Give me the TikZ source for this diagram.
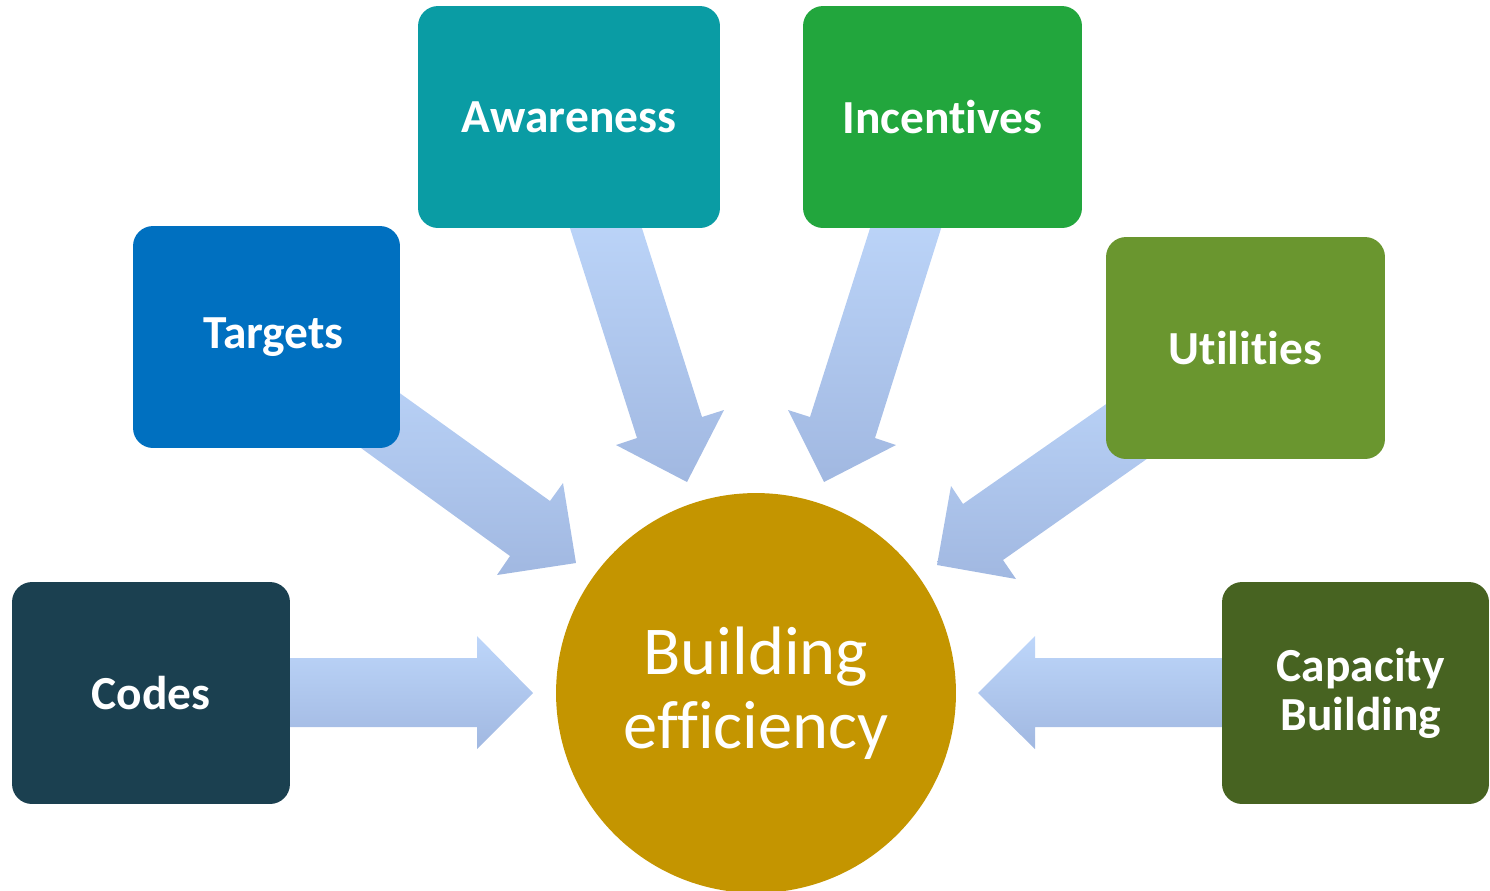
\documentclass[tikz,border=0pt]{standalone}
\usepackage{fontspec}
\setmainfont[Ligatures=NoCommon]{Carlito}
\definecolor{arrowtop}{HTML}{BDD6FA}
\definecolor{arrowbot}{HTML}{A1B8E1}
\definecolor{codesc}{HTML}{1B4050}
\definecolor{targetsc}{HTML}{0070C0}
\definecolor{awarenessc}{HTML}{0A9CA4}
\definecolor{incentivesc}{HTML}{22A63D}
\definecolor{utilitiesc}{HTML}{6A962F}
\definecolor{capacityc}{HTML}{476321}
\definecolor{goldc}{HTML}{C49500}
\begin{document}
\begin{tikzpicture}[x=0.02cm,y=-0.02cm,
  box/.style={rounded corners=0.4cm, minimum height=4.44cm, inner sep=0pt,
    text=white, font=\fontsize{27}{30}\selectfont\bfseries, align=center},
  barrow/.style={top color=arrowtop, bottom color=arrowbot, draw=none}]
\useasboundingbox (0,0) rectangle (1490,890);
% block arrows
\shade[barrow] (285,658) -- (477,658) -- (477,636) -- (533,693) -- (477,749) -- (477,727) -- (285,727) -- cycle;
\shade[barrow] (1230,658) -- (1035,658) -- (1035,636) -- (978,693) -- (1035,749) -- (1035,727) -- (1230,727) -- cycle;
\shade[barrow] (330,343) -- (550,501) -- (563,483) -- (576,563) -- (497,575) -- (510,556) -- (292,398) -- cycle;
\shade[barrow] (1175,356) -- (963,504) -- (951,486) -- (937,565) -- (1016,579) -- (1003,560) -- (1215,411) -- cycle;
\shade[barrow] (561,200) -- (637,438) -- (616,445) -- (687,482) -- (724,410) -- (702,417) -- (633,200) -- cycle;
\shade[barrow] (879,200) -- (810,417) -- (788,410) -- (824,482) -- (896,445) -- (875,438) -- (950,200) -- cycle;
% boxes
\node[box, fill=codesc, minimum width=5.56cm] (codes) at (151,693) {Codes};
\node[box, fill=targetsc, minimum width=5.34cm] (targets) at (266.5,337) {\hspace*{8pt}Targets};
\node[box, fill=awarenessc, minimum width=6.04cm] (awareness) at (569,117) {Awareness};
\node[box, fill=incentivesc, minimum width=5.58cm] (incentives) at (942.5,117) {Incentives};
\node[box, fill=utilitiesc, minimum width=5.58cm] (utilities) at (1245.5,348) {Utilities};
\node[box, fill=capacityc, minimum width=5.34cm] (capacity) at (1355.5,693) {\hspace*{6pt}Capacity\\[-2pt]\hspace*{6pt}Building};
% centre
\node[circle, fill=goldc, minimum size=8cm, inner sep=0pt, text=white,
  font=\fontsize{39}{42}\selectfont, align=center] (center) at (756,693) {Building\\efficiency};
\end{tikzpicture}
\end{document}
